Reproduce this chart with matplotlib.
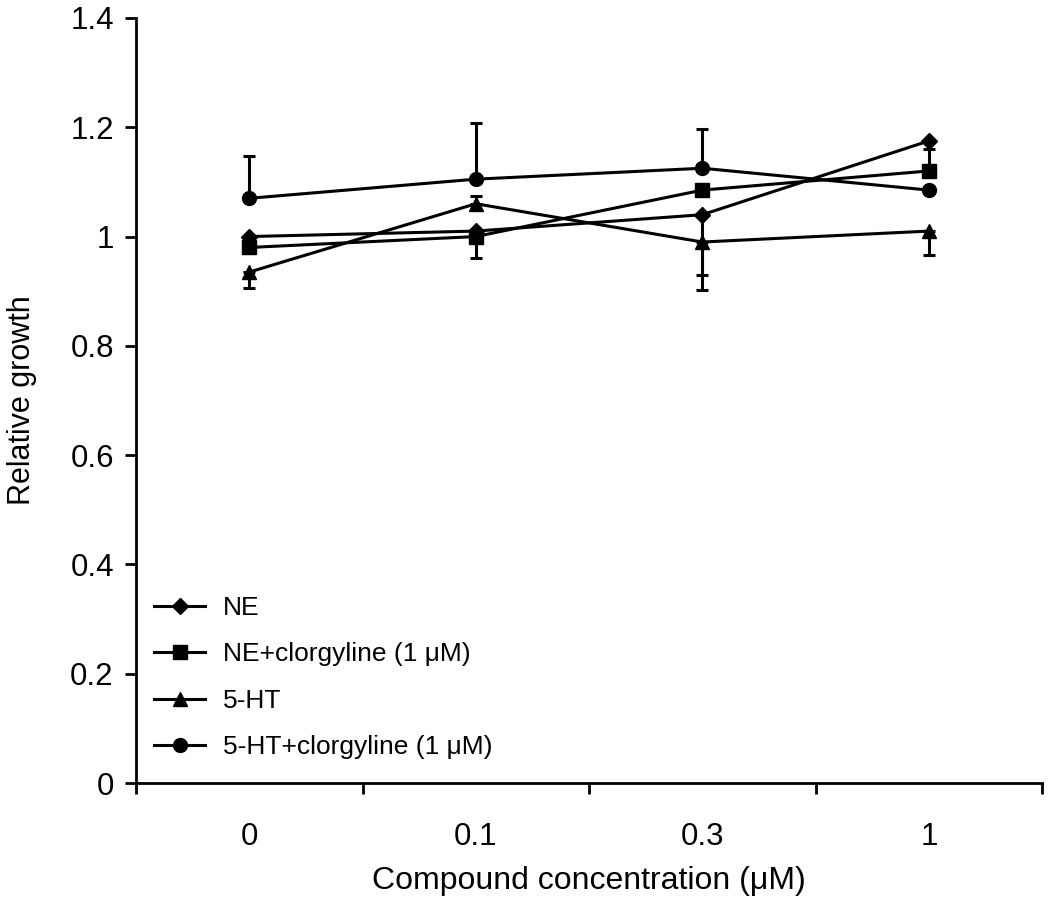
#!/usr/bin/env python3
import numpy as np
import matplotlib.pyplot as plt

plt.rcParams['font.family'] = ['Liberation Sans', 'DejaVu Sans']

concs = ['0', '0.1', '0.3', '1']

ne = [1.00, 1.01, 1.04, 1.175]
ne_lo = [0.01, 0.05, 0.11, 0.0]
ne_hi = [0.0, 0.0, 0.0, 0.0]

ne_clg = [0.98, 1.00, 1.085, 1.12]
ne_clg_lo = [0.01, 0.0, 0.0, 0.0]
ne_clg_hi = [0.01, 0.0, 0.0, 0.04]

ht = [0.935, 1.06, 0.99, 1.01]
ht_lo = [0.03, 0.0, 0.087, 0.043]
ht_hi = [0.0, 0.015, 0.0, 0.0]

ht_clg = [1.07, 1.105, 1.125, 1.085]
ht_clg_lo = [0.0, 0.0, 0.0, 0.0]
ht_clg_hi = [0.077, 0.103, 0.072, 0.0]

series = [
    ('NE', ne, ne_lo, ne_hi, 'D', 8),
    ('NE+clorgyline (1 μM)', ne_clg, ne_clg_lo, ne_clg_hi, 's', 10),
    ('5-HT', ht, ht_lo, ht_hi, '^', 10),
    ('5-HT+clorgyline (1 μM)', ht_clg, ht_clg_lo, ht_clg_hi, 'o', 10),
]

fig = plt.figure(figsize=(10.5, 8.97), dpi=100)
ax = fig.add_axes([0.1295, 0.127, 0.863, 0.853])

x = np.arange(len(concs))
handles = []
for label, vals, lo, hi, mk, ms in series:
    c = ax.errorbar(x, vals, yerr=[lo, hi], color='black', lw=2.2, marker=mk, ms=ms,
                    capsize=4.5, capthick=2.2, elinewidth=2.2, label=label)
    handles.append(c[0])  # line only, no error bar in legend

ax.set_xlim(-0.5, 3.5)
ax.set_ylim(0, 1.4)
ax.set_yticks(np.arange(0, 1.41, 0.2))
ax.set_yticklabels(['0', '0.2', '0.4', '0.6', '0.8', '1', '1.2', '1.4'])
# category boundaries get the ticks, labels sit between them
ax.set_xticks(np.arange(-0.5, 3.6, 1.0))
ax.set_xticklabels([])
ax.set_xticks(x, minor=True)
ax.set_xticklabels(concs, minor=True)
ax.tick_params(axis='x', which='minor', length=0, pad=28, labelsize=22.5)
ax.tick_params(axis='x', which='major', length=8, width=2, direction='out')
ax.tick_params(axis='y', length=8, width=2, labelsize=22.5, pad=8)

for s in ('top', 'right'):
    ax.spines[s].set_visible(False)
for s in ('left', 'bottom'):
    ax.spines[s].set_linewidth(2)

ax.set_xlabel('Compound concentration (μM)', fontsize=23, labelpad=10)
ax.set_ylabel('Relative growth', fontsize=22, labelpad=24)

ax.legend(handles=handles, labels=[s[0] for s in series],
          loc='lower left', bbox_to_anchor=(0.0, 0.007), frameon=False, fontsize=19,
          handlelength=1.9, handletextpad=0.7, labelspacing=0.85, borderaxespad=0.3)

fig.savefig('out.png', dpi=100)
